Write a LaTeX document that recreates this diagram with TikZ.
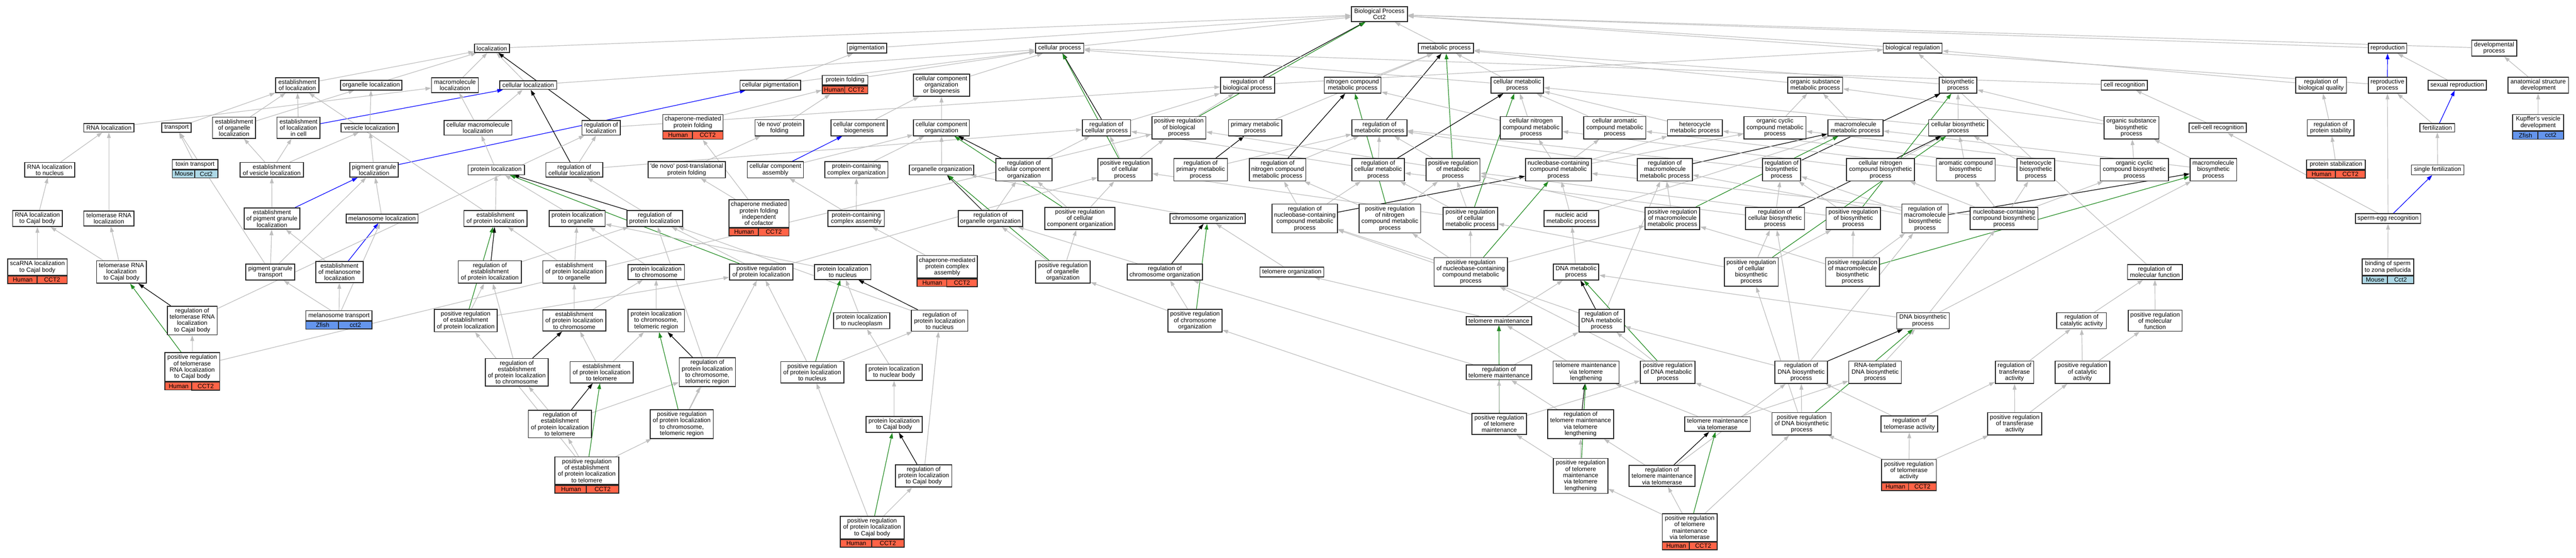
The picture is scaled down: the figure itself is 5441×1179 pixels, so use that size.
\documentclass[tikz,border=0pt]{standalone}
\usepackage{fontspec}
\setmainfont{Liberation Sans}
\usetikzlibrary{positioning,arrows.meta,calc,fit}
\definecolor{edgegray}{HTML}{BEBEBE}
\definecolor{posgreen}{HTML}{228B22}
\definecolor{human}{HTML}{FF6347}
\definecolor{mouse}{HTML}{ADD8E6}
\definecolor{zfish}{HTML}{6495ED}
\pgfdeclarelayer{edges}
\pgfsetlayers{edges,main}
\newcommand\gofont{\fontsize{6.5}{6.7}\selectfont}
\newcommand\apos{\textquotesingle}
% species and gene strip under a term
\newcommand\gofoot[4]{%
	\path let \p1=($(#1.east)-(#1.west)$) in
		node[footcell,fill=#4,minimum width=0.5*\x1,below right=0pt and 0pt of #1.south west] (#1sp) {#2}
		node[footcell,fill=#4,minimum width=0.5*\x1,below left=0pt and 0pt of #1.south east] (#1gn) {#3};
	\node[fit=(#1)(#1sp)(#1gn),inner sep=0pt] (#1x) {};
}
\begin{document}
\begin{tikzpicture}[x=0.5pt,y=-0.5pt,>={Triangle[length=6pt,width=4pt]},
		every node/.style={font=\gofont},
		term/.style={shape=rectangle,draw=black!85,fill=white,line width=0.9pt,
			align=center,inner xsep=2pt,inner ysep=2.1pt},
		footcell/.style={shape=rectangle,draw=black!85,line width=0.9pt,inner xsep=1pt,inner ysep=1.8pt},
		wd/.style={minimum width=#1*0.5pt},
		isa/.style={->,draw=edgegray,line width=0.65pt},
		regulates/.style={->,draw=black,line width=0.65pt},
		posreg/.style={->,draw=posgreen,line width=0.65pt},
		partof/.style={->,draw=blue,line width=0.65pt}]
	\useasboundingbox (0,0) rectangle (5441,1179);

	% create the nodes, row by row
	\node[term,wd=118.5] (bp) at (2913.5,30) {Biological Process\\Cct2};

	\node[term,wd=74] (loc) at (1039,102) {localization};
	\node[term,wd=83] (pigm) at (1831,102) {pigmentation};
	\node[term,wd=102] (cellproc) at (2238,102) {cellular process};
	\node[term,wd=117] (metab) at (3054,102) {metabolic process};
	\node[term,wd=124] (bioreg) at (4040,102) {biological regulation};
	\node[term,wd=81] (repro) at (5043,102) {reproduction};
	\node[term,wd=95] (devproc) at (5268,102) {developmental\\process};

	\node[term,wd=91] (estloc) at (628,180) {establishment\\of localization};
	\node[term,wd=130] (orgloc) at (784,180) {organelle localization};
	\node[term,wd=99] (macroloc) at (961,180) {macromolecule\\localization};
	\node[term,wd=120] (cellloc) at (1115.6,180) {cellular localization};
	\node[term,wd=128] (cellpigm) at (1627,180) {cellular pigmentation};
	\node[term,wd=96] (protfold) at (1785,169.5) {protein folding};
	\node[term,wd=118.4] (ccob) at (1988.6,180) {cellular component\\organization\\or biogenesis};
	\node[term,wd=114] (regbio) at (2635,180) {regulation of\\biological process};
	\node[term,wd=120] (nitro) at (2857,180) {nitrogen compound\\metabolic process};
	\node[term,wd=111] (cellmet) at (3204.6,180) {cellular metabolic\\process};
	\node[term,wd=116] (orgsub) at (3834,180) {organic substance\\metabolic process};
	\node[term,wd=80] (biosyn) at (4135.6,180) {biosynthetic\\process};
	\node[term,wd=97.6] (cellrec) at (4487,180) {cell recognition};
	\node[term,wd=107] (regqual) at (4902.6,180) {regulation of\\biological quality};
	\node[term,wd=81] (reproproc) at (5042.6,180) {reproductive\\process};
	\node[term,wd=122.5] (sexrepro) at (5190,180) {sexual reproduction};
	\node[term,wd=128] (anat) at (5361,180) {anatomical structure\\development};

	\node[term,wd=106] (rnaloc) at (230,270) {RNA localization};
	\node[term,wd=62] (transport) at (373,270) {transport};
	\node[term,wd=91] (estorgloc) at (494.5,270) {establishment\\of organelle\\localization};
	\node[term,wd=91] (estloccell) at (630.5,270) {establishment\\of localization\\in cell};
	\node[term,wd=121] (vesloc) at (781,270) {vesicle localization};
	\node[term,wd=143] (cellmacroloc) at (1009.6,270) {cellular macromolecule\\localization};
	\node[term,wd=81] (regloc) at (1269.6,270) {regulation of\\localization};
	\node[term,wd=127] (chapfold) at (1463.5,259) {chaperone-mediated\\protein folding};
	\node[term,wd=102] (denovo) at (1646,270) {\apos de novo\apos\ protein\\folding};
	\node[term,wd=119] (ccbiog) at (1814.5,270) {cellular component\\biogenesis};
	\node[term,wd=118] (ccorg) at (1988.6,270) {cellular component\\organization};
	\node[term,wd=102] (regcell) at (2337,270) {regulation of\\cellular process};
	\node[term,wd=114] (posbio) at (2490,270) {positive regulation\\of biological\\process};
	\node[term,wd=112.6] (primmet) at (2651,270) {primary metabolic\\process};
	\node[term,wd=116] (regmet) at (2913.6,270) {regulation of\\metabolic process};
	\node[term,wd=130.6] (cellnitro) at (3234,270) {cellular nitrogen\\compound metabolic\\process};
	\node[term,wd=131] (cellarom) at (3410.6,270) {cellular aromatic\\compound metabolic\\process};
	\node[term,wd=116] (hetero) at (3580,270) {heterocycle\\metabolic process};
	\node[term,wd=131] (orgcyc) at (3749,270) {organic cyclic\\compound metabolic\\process};
	\node[term,wd=116] (macromet) at (3919,270) {macromolecule\\metabolic process};
	\node[term,wd=125] (cellbiosyn) at (4136,270) {cellular biosynthetic\\process};
	\node[term,wd=116] (orgsubbio) at (4502,270) {organic substance\\biosynthetic\\process};
	\node[term,wd=121] (cellcell) at (4684,270) {cell-cell recognition};
	\node[term,wd=98.5] (regprotstab) at (4922.6,270) {regulation of\\protein stability};
	\node[term,wd=73] (fert) at (5148,270) {fertilization};
	\node[term,wd=108] (kupffer) at (5361,259) {Kupffer\apos s vesicle\\development};

	\node[term,wd=105] (rnanuc) at (105,359) {RNA localization\\to nucleus};
	\node[term,wd=96] (toxin) at (412,347.5) {toxin transport};
	\node[term,wd=134] (estvesloc) at (574,359) {establishment\\of vesicle localization};
	\node[term,wd=102] (pigloc) at (790,359) {pigment granule\\localization};
	\node[term,wd=119] (protloc) at (1048,359) {protein localization};
	\node[term,wd=120] (regcellloc) at (1213,359) {regulation of\\cellular localization};
	\node[term,wd=163] (denovopost) at (1450.5,359) {\apos de novo\apos\ post-translational\\protein folding};
	\node[term,wd=118.5] (ccassem) at (1637.7,359) {cellular component\\assembly};
	\node[term,wd=133] (pccorg) at (1809,359) {protein-containing\\complex organization};
	\node[term,wd=136] (orgorg) at (1989,359) {organelle organization};
	\node[term,wd=118.5] (regccorg) at (2163,359) {regulation of\\cellular component\\organization};
	\node[term,wd=114] (poscell) at (2376,359) {positive regulation\\of cellular\\process};
	\node[term,wd=113] (regprim) at (2536,359) {regulation of\\primary metabolic\\process};
	\node[term,wd=119] (regnitro) at (2698.5,359) {regulation of\\nitrogen compound\\metabolic process};
	\node[term,wd=111] (regcellmet) at (2911,359) {regulation of\\cellular metabolic\\process};
	\node[term,wd=114] (posmet) at (3069,359) {positive regulation\\of metabolic\\process};
	\node[term,wd=139] (nucmet) at (3291.6,359) {nucleobase-containing\\compound metabolic\\process};
	\node[term,wd=116] (regmacromet) at (3516.6,359) {regulation of\\macromolecule\\metabolic process};
	\node[term,wd=81] (regbiosyn) at (3763,359) {regulation of\\biosynthetic\\process};
	\node[term,wd=144] (cellnitrobio) at (3972,359) {cellular nitrogen\\compound biosynthetic\\process};
	\node[term,wd=124] (arombio) at (4152,359) {aromatic compound\\biosynthetic\\process};
	\node[term,wd=80] (heterobio) at (4300,359) {heterocycle\\biosynthetic\\process};
	\node[term,wd=144] (orgcycbio) at (4508,359) {organic cyclic\\compound biosynthetic\\process};
	\node[term,wd=98.5] (macrobio) at (4675,359) {macromolecule\\biosynthetic\\process};
	\node[term,wd=124] (protstab) at (4934,348) {protein stabilization};
	\node[term,wd=111] (singlefert) at (5148.6,359) {single fertilization};

	\node[term,wd=105] (rnacajal) at (79,462) {RNA localization\\to Cajal body};
	\node[term,wd=106] (telrnaloc) at (230,462) {telomerase RNA\\localization};
	\node[term,wd=117] (estpigloc) at (574.5,462) {establishment\\of pigment granule\\localization};
	\node[term,wd=152] (melloc) at (807,462) {melanosome localization};
	\node[term,wd=133] (estprotloc) at (1046.6,462) {establishment\\of protein localization};
	\node[term,wd=118] (protlocorg) at (1219,462) {protein localization\\to organelle};
	\node[term,wd=118] (regprotloc) at (1383,462) {regulation of\\protein localization};
	\node[term,wd=127] (chapind) at (1603,451.5) {chaperone mediated\\protein folding\\independent\\of cofactor};
	\node[term,wd=119] (pcassem) at (1808.5,462) {protein-containing\\complex assembly};
	\node[term,wd=136] (regorgorg) at (2092,462) {regulation of\\organelle organization};
	\node[term,wd=148] (posccorg) at (2281,462) {positive regulation\\of cellular\\component organization};
	\node[term,wd=159] (chromorg) at (2551,462) {chromosome organization};
	\node[term,wd=138] (regnucmet) at (2756,462) {regulation of\\nucleobase-containing\\compound metabolic\\process};
	\node[term,wd=130] (posnitro) at (2935.6,462) {positive regulation\\of nitrogen\\compound metabolic\\process};
	\node[term,wd=116] (poscellmet) at (3105.7,462) {positive regulation\\of cellular\\metabolic process};
	\node[term,wd=115.5] (nucacid) at (3319,462) {nucleic acid\\metabolic process};
	\node[term,wd=115.5] (posmacromet) at (3532.5,462) {positive regulation\\of macromolecule\\metabolic process};
	\node[term,wd=125] (regcellbio) at (3749,462) {regulation of\\cellular biosynthetic\\process};
	\node[term,wd=115] (posbiosyn) at (3914.6,462) {positive regulation\\of biosynthetic\\process};
	\node[term,wd=98] (regmacrobio) at (4066,462) {regulation of\\macromolecule\\biosynthetic\\process};
	\node[term,wd=143] (nucbio) at (4233,462) {nucleobase-containing\\compound biosynthetic\\process};
	\node[term,wd=138] (spermegg) at (5044,462) {sperm-egg recognition};

	\node[term,wd=126] (scarna) at (79,564.5) {scaRNA localization\\to Cajal body};
	\node[term,wd=105] (telrnacajal) at (256.5,575) {telomerase RNA\\localization\\to Cajal body};
	\node[term,wd=103.5] (pigtrans) at (571,575) {pigment granule\\transport};
	\node[term,wd=100] (estmelloc) at (717,575) {establishment\\of melanosome\\localization};
	\node[term,wd=133] (regestprot) at (1034.6,575) {regulation of\\establishment\\of protein localization};
	\node[term,wd=133] (estprotorg) at (1213,575) {establishment\\of protein localization\\to organelle};
	\node[term,wd=119] (protchrom) at (1386,575) {protein localization\\to chromosome};
	\node[term,wd=134] (posprotloc) at (1608,575) {positive regulation\\of protein localization};
	\node[term,wd=119] (protnuc) at (1780,575) {protein localization\\to nucleus};
	\node[term,wd=127] (chapcomplex) at (2000.5,564) {chaperone-mediated\\protein complex\\assembly};
	\node[term,wd=115] (posorgorg) at (2245,575) {positive regulation\\of organelle\\organization};
	\node[term,wd=159] (regchrom) at (2460.5,575) {regulation of\\chromosome organization};
	\node[term,wd=135] (telorg) at (2728.5,575) {telomere organization};
	\node[term,wd=155] (posnucmet) at (3106.5,575) {positive regulation\\of nucleobase-containing\\compound metabolic\\process};
	\node[term,wd=96] (dnamet) at (3329,575) {DNA metabolic\\process};
	\node[term,wd=114] (poscellbio) at (3699,575) {positive regulation\\of cellular\\biosynthetic\\process};
	\node[term,wd=114] (posmacrobio) at (3913,575) {positive regulation\\of macromolecule\\biosynthetic\\process};
	\node[term,wd=115.7] (regmolfun) at (4551.5,575) {regulation of\\molecular function};
	\node[term,wd=109] (bindsperm) at (5043.5,564.5) {binding of sperm\\to zona pellucida};

	\node[term,wd=105] (regtelrna) at (406,677.5) {regulation of\\telomerase RNA\\localization\\to Cajal body};
	\node[term,wd=140] (meltrans) at (716,667) {melanosome transport};
	\node[term,wd=133] (posestprot) at (983.6,677.6) {positive regulation\\of establishment\\of protein localization};
	\node[term,wd=133] (estprotchrom) at (1213,677.6) {establishment\\of protein localization\\to chromosome};
	\node[term,wd=119] (protteloreg) at (1386,677.6) {protein localization\\to chromosome,\\telomeric region};
	\node[term,wd=118] (protnucpl) at (1820,678) {protein localization\\to nucleoplasm};
	\node[term,wd=119] (regprotnuc) at (1984.6,678) {regulation of\\protein localization\\to nucleus};
	\node[term,wd=114] (poschrom) at (2524,678) {positive regulation\\of chromosome\\organization};
	\node[term,wd=138] (telmaint) at (3166,678) {telomere maintenance};
	\node[term,wd=96] (regdnamet) at (3383,678) {regulation of\\DNA metabolic\\process};
	\node[term,wd=111] (dnabio) at (4061.6,678) {DNA biosynthetic\\process};
	\node[term,wd=105] (regcat) at (4396.6,678) {regulation of\\catalytic activity};
	\node[term,wd=114] (posmolfun) at (4552,678) {positive regulation\\of molecular\\function};

	\node[term,wd=116] (postelrna) at (406,776) {positive regulation\\of telomerase\\RNA localization\\to Cajal body};
	\node[term,wd=133] (regestchrom) at (1091.6,787) {regulation of\\establishment\\of protein localization\\to chromosome};
	\node[term,wd=133] (estprottel) at (1270.6,787) {establishment\\of protein localization\\to telomere};
	\node[term,wd=118.5] (regprottelo) at (1494,787) {regulation of\\protein localization\\to chromosome,\\telomeric region};
	\node[term,wd=133] (posprotnuc) at (1715.6,787) {positive regulation\\of protein localization\\to nucleus};
	\node[term,wd=119] (protnucbody) at (1888.5,787) {protein localization\\to nuclear body};
	\node[term,wd=138] (regtelmaint) at (3166,787) {regulation of\\telomere maintenance};
	\node[term,wd=139] (telmaintlen) at (3350,787) {telomere maintenance\\via telomere\\lengthening};
	\node[term,wd=115] (posdnamet) at (3522.6,787) {positive regulation\\of DNA metabolic\\process};
	\node[term,wd=111] (regdnabio) at (3804.5,787) {regulation of\\DNA biosynthetic\\process};
	\node[term,wd=111] (rnatempl) at (3960.6,787) {RNA-templated\\DNA biosynthetic\\process};
	\node[term,wd=81] (regtrans) at (4255,787) {regulation of\\transferase\\activity};
	\node[term,wd=115] (poscat) at (4398.6,787) {positive regulation\\of catalytic\\activity};

	\node[term,wd=133] (regesttel) at (1182.6,896.5) {regulation of\\establishment\\of protein localization\\to telomere};
	\node[term,wd=133] (posprottelo) at (1440,896.5) {positive regulation\\of protein localization\\to chromosome,\\telomeric region};
	\node[term,wd=119] (protcajal) at (1888.5,897) {protein localization\\to Cajal body};
	\node[term,wd=115] (postelmaint) at (3166.6,896) {positive regulation\\of telomere\\maintenance};
	\node[term,wd=139] (regtellen) at (3338.5,896.5) {regulation of\\telomere maintenance\\via telomere\\lengthening};
	\node[term,wd=139] (telmainttase) at (3627.7,896.5) {telomere maintenance\\via telomerase};
	\node[term,wd=125] (posdnabio) at (3805.5,896) {positive regulation\\of DNA biosynthetic\\process};
	\node[term,wd=120] (regtase) at (4033,896.5) {regulation of\\telomerase activity};
	\node[term,wd=114] (postrans) at (4255.5,896) {positive regulation\\of transferase\\activity};

	\node[term,wd=135] (posesttel) at (1239.5,995) {positive regulation\\of establishment\\of protein localization\\to telomere};
	\node[term,wd=119] (regprotcajal) at (1951,1006) {regulation of\\protein localization\\to Cajal body};
	\node[term,wd=115] (postellen) at (3338.6,1006) {positive regulation\\of telomere\\maintenance\\via telomere\\lengthening};
	\node[term,wd=139] (regteltase) at (3510.6,1006) {regulation of\\telomere maintenance\\via telomerase};
	\node[term,wd=116] (postase) at (4032,995) {positive regulation\\of telomerase\\activity};

	\node[term,wd=135] (posprotcajal) at (1842,1115) {positive regulation\\of protein localization\\to Cajal body};
	\node[term,wd=115.7] (posteltase) at (3569,1115) {positive regulation\\of telomere\\maintenance\\via telomerase};

	% species strips
	\gofoot{protfold}{Human}{CCT2}{human}
	\gofoot{chapfold}{Human}{CCT2}{human}
	\gofoot{kupffer}{Zfish}{cct2}{zfish}
	\gofoot{toxin}{Mouse}{Cct2}{mouse}
	\gofoot{protstab}{Human}{CCT2}{human}
	\gofoot{chapind}{Human}{CCT2}{human}
	\gofoot{scarna}{Human}{CCT2}{human}
	\gofoot{chapcomplex}{Human}{CCT2}{human}
	\gofoot{bindsperm}{Mouse}{Cct2}{mouse}
	\gofoot{meltrans}{Zfish}{cct2}{zfish}
	\gofoot{postelrna}{Human}{CCT2}{human}
	\gofoot{posesttel}{Human}{CCT2}{human}
	\gofoot{postase}{Human}{CCT2}{human}
	\gofoot{posprotcajal}{Human}{CCT2}{human}
	\gofoot{posteltase}{Human}{CCT2}{human}

	% connect the nodes
	\begin{pgfonlayer}{edges}
	\draw[isa] (loc) -- (bp);
	\draw[isa] (pigm) -- (bp);
	\draw[isa] (cellproc) -- (bp);
	\draw[isa] (metab) -- (bp);
	\draw[isa] (bioreg) -- (bp);
	\draw[isa] (repro) -- (bp);
	\draw[isa] (devproc) -- (bp);
	\draw[isa] (reproproc) -- (bp);
	\draw[regulates] (regbio) -- (bp);
	\draw[posreg] (posbio) -- (bp);

	\draw[isa] (estloc) -- (loc);
	\draw[isa] (orgloc) -- (loc);
	\draw[isa] (macroloc) -- (loc);
	\draw[isa] (cellloc) -- (loc);
	\draw[regulates] (regloc) -- (loc);
	\draw[isa] (cellpigm) -- (pigm);
	\draw[isa] (cellpigm) -- (cellproc);
	\draw[isa] (cellloc) -- (cellproc);
	\draw[isa] (protfold) -- (cellproc);
	\draw[isa] (ccob) -- (cellproc);
	\draw[isa] (cellmet) -- (cellproc);
	\draw[isa] (cellrec) -- (cellproc);
	\draw[regulates] (regcell) -- (cellproc);
	\draw[posreg] (poscell) -- (cellproc);
	\draw[isa] (nitro) -- (metab);
	\draw[isa] (primmet) -- (metab);
	\draw[isa] (cellmet) -- (metab);
	\draw[isa] (orgsub) -- (metab);
	\draw[isa] (biosyn) -- (metab);
	\draw[regulates] (regmet) -- (metab);
	\draw[posreg] (posmet) -- (metab);
	\draw[isa] (regbio) -- (bioreg);
	\draw[isa] (regqual) -- (bioreg);
	\draw[isa] (regmolfun) -- (bioreg);
	\draw[partof] (reproproc) -- (repro);
	\draw[isa] (sexrepro) -- (repro);
	\draw[isa] (anat) -- (devproc);

	\draw[isa] (rnaloc) -- (macroloc);
	\draw[isa] (transport) -- (estloc);
	\draw[isa] (estorgloc) -- (estloc);
	\draw[isa] (estorgloc) -- (orgloc);
	\draw[isa] (estloccell) -- (estloc);
	\draw[partof] (estloccell) -- (cellloc);
	\draw[isa] (vesloc) -- (orgloc);
	\draw[isa] (cellmacroloc) -- (macroloc);
	\draw[isa] (cellmacroloc) -- (cellloc);
	\draw[isa] (regloc) -- (regbio);
	\draw[isa] (chapfold) -- (protfoldx);
	\draw[isa] (denovo) -- (protfoldx);
	\draw[isa] (ccbiog) -- (ccob);
	\draw[isa] (ccorg) -- (ccob);
	\draw[isa] (regcell) -- (regbio);
	\draw[isa] (posbio) -- (regbio);
	\draw[isa] (cellnitro) -- (cellmet);
	\draw[isa] (cellnitro) -- (nitro);
	\draw[isa] (cellarom) -- (cellmet);
	\draw[isa] (hetero) -- (cellmet);
	\draw[isa] (orgcyc) -- (orgsub);
	\draw[isa] (macromet) -- (orgsub);
	\draw[isa] (cellbiosyn) -- (biosyn);
	\draw[isa] (cellbiosyn) -- (cellmet);
	\draw[isa] (orgsubbio) -- (orgsub);
	\draw[isa] (orgsubbio) -- (biosyn);
	\draw[isa] (cellcell) -- (cellrec);
	\draw[isa] (regprotstab) -- (regqual);
	\draw[isa] (fert) -- (reproproc);
	\draw[partof] (fert) -- (sexrepro);
	\draw[isa] (kupffer) -- (anat);

	\draw[isa] (rnanuc) -- (rnaloc);
	\draw[isa] (toxin) -- (transport);
	\draw[isa] (estvesloc) -- (estorgloc);
	\draw[isa] (estvesloc) -- (estloccell);
	\draw[isa] (estvesloc) -- (vesloc);
	\draw[isa] (pigloc) -- (vesloc);
	\draw[partof] (pigloc) -- (cellpigm);
	\draw[isa] (protloc) -- (cellmacroloc);
	\draw[isa] (regcellloc) -- (regloc);
	\draw[regulates] (regcellloc) -- (cellloc);
	\draw[isa] (regcellloc) -- (regcell);
	\draw[isa] (denovopost) -- (denovo);
	\draw[partof] (ccassem) -- (ccbiog);
	\draw[isa] (ccassem) -- (ccorg);
	\draw[isa] (pccorg) -- (ccorg);
	\draw[isa] (orgorg) -- (ccorg);
	\draw[regulates] (regccorg) -- (ccorg);
	\draw[isa] (regccorg) -- (regcell);
	\draw[isa] (poscell) -- (regcell);
	\draw[isa] (poscell) -- (posbio);
	\draw[isa] (regprim) -- (regmet);
	\draw[regulates] (regprim) -- (primmet);
	\draw[isa] (regnitro) -- (regmet);
	\draw[regulates] (regnitro) -- (nitro);
	\draw[isa] (regcellmet) -- (regmet);
	\draw[isa] (regcellmet) -- (regcell);
	\draw[regulates] (regcellmet) -- (cellmet);
	\draw[isa] (posmet) -- (regmet);
	\draw[isa] (posmet) -- (posbio);
	\draw[isa] (nucmet) -- (cellnitro);
	\draw[isa] (nucmet) -- (cellarom);
	\draw[isa] (nucmet) -- (hetero);
	\draw[isa] (nucmet) -- (orgcyc);
	\draw[isa] (regmacromet) -- (regmet);
	\draw[regulates] (regmacromet) -- (macromet);
	\draw[isa] (regbiosyn) -- (regmet);
	\draw[regulates] (regbiosyn) -- (biosyn);
	\draw[isa] (cellnitrobio) -- (cellbiosyn);
	\draw[isa] (cellnitrobio) -- (cellnitro);
	\draw[isa] (arombio) -- (cellbiosyn);
	\draw[isa] (arombio) -- (cellarom);
	\draw[isa] (heterobio) -- (cellbiosyn);
	\draw[isa] (heterobio) -- (hetero);
	\draw[isa] (orgcycbio) -- (orgsubbio);
	\draw[isa] (orgcycbio) -- (orgcyc);
	\draw[isa] (macrobio) -- (orgsubbio);
	\draw[isa] (macrobio) -- (macromet);
	\draw[isa] (protstab) -- (regprotstab);
	\draw[isa] (singlefert) -- (fert);

	\draw[isa] (rnacajal) -- (rnanuc);
	\draw[isa] (telrnaloc) -- (rnaloc);
	\draw[partof] (estpigloc) -- (pigloc);
	\draw[isa] (estpigloc) -- (estvesloc);
	\draw[isa] (melloc) -- (pigloc);
	\draw[isa] (estprotloc) -- (protloc);
	\draw[isa] (estprotloc) -- (estloc);
	\draw[isa] (protlocorg) -- (protloc);
	\draw[regulates] (regprotloc) -- (protloc);
	\draw[isa] (regprotloc) -- (regcellloc);
	\draw[isa] (chapind) -- (chapfoldx);
	\draw[isa] (chapind) -- (denovopost);
	\draw[isa] (pcassem) -- (pccorg);
	\draw[isa] (pcassem) -- (ccassem);
	\draw[regulates] (regorgorg) -- (orgorg);
	\draw[isa] (regorgorg) -- (regccorg);
	\draw[posreg] (posccorg) -- (ccorg);
	\draw[isa] (posccorg) -- (regccorg);
	\draw[isa] (posccorg) -- (poscell);
	\draw[isa] (chromorg) -- (orgorg);
	\draw[regulates] (regnucmet) -- (nucmet);
	\draw[isa] (regnucmet) -- (regnitro);
	\draw[isa] (regnucmet) -- (regcellmet);
	\draw[posreg] (posnitro) -- (nitro);
	\draw[isa] (posnitro) -- (regnitro);
	\draw[isa] (posnitro) -- (posmet);
	\draw[posreg] (poscellmet) -- (cellmet);
	\draw[isa] (poscellmet) -- (regcellmet);
	\draw[isa] (poscellmet) -- (posmet);
	\draw[isa] (poscellmet) -- (poscell);
	\draw[isa] (nucacid) -- (nucmet);
	\draw[isa] (nucacid) -- (macromet);
	\draw[posreg] (posmacromet) -- (macromet);
	\draw[isa] (posmacromet) -- (regmacromet);
	\draw[isa] (posmacromet) -- (posmet);
	\draw[isa] (regcellbio) -- (regbiosyn);
	\draw[isa] (regcellbio) -- (regcellmet);
	\draw[regulates] (regcellbio) -- (cellbiosyn);
	\draw[isa] (posbiosyn) -- (regbiosyn);
	\draw[isa] (posbiosyn) -- (posmet);
	\draw[posreg] (posbiosyn) -- (biosyn);
	\draw[isa] (regmacrobio) -- (regmacromet);
	\draw[isa] (regmacrobio) -- (regbiosyn);
	\draw[regulates] (regmacrobio) -- (macrobio);
	\draw[isa] (nucbio) -- (nucmet);
	\draw[isa] (nucbio) -- (cellnitrobio);
	\draw[isa] (nucbio) -- (arombio);
	\draw[isa] (nucbio) -- (heterobio);
	\draw[isa] (nucbio) -- (orgcycbio);
	\draw[partof] (spermegg) -- (singlefert);
	\draw[isa] (spermegg) -- (reproproc);
	\draw[isa] (spermegg) -- (cellcell);

	\draw[isa] (scarna) -- (rnacajal);
	\draw[isa] (telrnacajal) -- (rnacajal);
	\draw[isa] (telrnacajal) -- (telrnaloc);
	\draw[isa] (pigtrans) -- (estpigloc);
	\draw[isa] (pigtrans) -- (transport);
	\draw[isa] (pigtrans) -- (pigloc);
	\draw[partof] (estmelloc) -- (melloc);
	\draw[isa] (estmelloc) -- (estpigloc);
	\draw[regulates] (regestprot) -- (estprotloc);
	\draw[isa] (regestprot) -- (regprotloc);
	\draw[isa] (estprotorg) -- (estprotloc);
	\draw[isa] (estprotorg) -- (protlocorg);
	\draw[isa] (protchrom) -- (protlocorg);
	\draw[isa] (posprotloc) -- (regprotloc);
	\draw[posreg] (posprotloc) -- (protloc);
	\draw[isa] (posprotloc) -- (poscell);
	\draw[isa] (protnuc) -- (protlocorg);
	\draw[isa] (chapcomplex) -- (pcassem);
	\draw[posreg] (posorgorg) -- (orgorg);
	\draw[isa] (posorgorg) -- (regorgorg);
	\draw[isa] (posorgorg) -- (posccorg);
	\draw[regulates] (regchrom) -- (chromorg);
	\draw[isa] (regchrom) -- (regorgorg);
	\draw[isa] (telorg) -- (chromorg);
	\draw[posreg] (posnucmet) -- (nucmet);
	\draw[isa] (posnucmet) -- (regnucmet);
	\draw[isa] (posnucmet) -- (posnitro);
	\draw[isa] (posnucmet) -- (poscellmet);
	\draw[isa] (posnucmet) -- (posmacromet);
	\draw[isa] (dnamet) -- (nucacid);
	\draw[posreg] (poscellbio) -- (cellbiosyn);
	\draw[isa] (poscellbio) -- (regcellbio);
	\draw[isa] (poscellbio) -- (posbiosyn);
	\draw[isa] (poscellbio) -- (poscellmet);
	\draw[posreg] (posmacrobio) -- (macrobio);
	\draw[isa] (posmacrobio) -- (posbiosyn);
	\draw[isa] (posmacrobio) -- (regmacrobio);
	\draw[isa] (posmacrobio) -- (posmacromet);
	\draw[isa] (bindsperm) -- (spermegg);

	\draw[regulates] (regtelrna) -- (telrnacajal);
	\draw[isa] (regtelrna) -- (regloc);
	\draw[isa] (meltrans) -- (estmelloc);
	\draw[isa] (meltrans) -- (pigtrans);
	\draw[isa] (meltrans) -- (melloc);
	\draw[posreg] (posestprot) -- (estprotloc);
	\draw[isa] (posestprot) -- (regestprot);
	\draw[isa] (posestprot) -- (posprotloc);
	\draw[isa] (estprotchrom) -- (estprotorg);
	\draw[isa] (estprotchrom) -- (protchrom);
	\draw[isa] (protteloreg) -- (protchrom);
	\draw[isa] (protnucpl) -- (protnuc);
	\draw[regulates] (regprotnuc) -- (protnuc);
	\draw[isa] (regprotnuc) -- (regprotloc);
	\draw[posreg] (poschrom) -- (chromorg);
	\draw[isa] (poschrom) -- (regchrom);
	\draw[isa] (poschrom) -- (posorgorg);
	\draw[isa] (telmaint) -- (telorg);
	\draw[isa] (telmaint) -- (dnamet);
	\draw[regulates] (regdnamet) -- (dnamet);
	\draw[isa] (regdnamet) -- (regnucmet);
	\draw[isa] (regdnamet) -- (regmacromet);
	\draw[isa] (dnabio) -- (dnamet);
	\draw[isa] (dnabio) -- (nucbio);
	\draw[isa] (dnabio) -- (macrobio);
	\draw[isa] (regcat) -- (regmolfun);
	\draw[isa] (posmolfun) -- (regmolfun);

	\draw[posreg] (postelrna) -- (telrnacajal);
	\draw[isa] (postelrna) -- (regtelrna);
	\draw[isa] (postelrna) -- (posbio);
	\draw[regulates] (regestchrom) -- (estprotchrom);
	\draw[isa] (regestchrom) -- (regestprot);
	\draw[isa] (estprottel) -- (estprotchrom);
	\draw[isa] (estprottel) -- (protteloreg);
	\draw[regulates] (regprottelo) -- (protteloreg);
	\draw[isa] (regprottelo) -- (regprotloc);
	\draw[posreg] (posprotnuc) -- (protnuc);
	\draw[isa] (posprotnuc) -- (regprotnuc);
	\draw[isa] (posprotnuc) -- (posprotloc);
	\draw[isa] (protnucbody) -- (protnucpl);
	\draw[regulates] (regtelmaint) -- (telmaint);
	\draw[isa] (regtelmaint) -- (regdnamet);
	\draw[isa] (regtelmaint) -- (regchrom);
	\draw[isa] (telmaintlen) -- (telmaint);
	\draw[posreg] (posdnamet) -- (dnamet);
	\draw[isa] (posdnamet) -- (regdnamet);
	\draw[isa] (posdnamet) -- (posnucmet);
	\draw[regulates] (regdnabio) -- (dnabio);
	\draw[isa] (regdnabio) -- (regdnamet);
	\draw[isa] (regdnabio) -- (regcellbio);
	\draw[isa] (regdnabio) -- (regmacrobio);
	\draw[isa] (rnatempl) -- (dnabio);
	\draw[isa] (regtrans) -- (regcat);
	\draw[isa] (poscat) -- (regcat);
	\draw[isa] (poscat) -- (posmolfun);

	\draw[regulates] (regesttel) -- (estprottel);
	\draw[isa] (regesttel) -- (regestchrom);
	\draw[isa] (regesttel) -- (regprottelo);
	\draw[posreg] (posprottelo) -- (protteloreg);
	\draw[isa] (posprottelo) -- (regprottelo);
	\draw[isa] (posprottelo) -- (posprotloc);
	\draw[isa] (protcajal) -- (protnucbody);
	\draw[posreg] (postelmaint) -- (telmaint);
	\draw[isa] (postelmaint) -- (regtelmaint);
	\draw[isa] (postelmaint) -- (posdnamet);
	\draw[isa] (postelmaint) -- (poschrom);
	\draw[regulates] (regtellen) -- (telmaintlen);
	\draw[isa] (regtellen) -- (regtelmaint);
	\draw[isa] (telmainttase) -- (telmaintlen);
	\draw[isa] (telmainttase) -- (rnatempl);
	\draw[posreg] (posdnabio) -- (dnabio);
	\draw[isa] (posdnabio) -- (regdnabio);
	\draw[isa] (posdnabio) -- (posdnamet);
	\draw[isa] (posdnabio) -- (poscellbio);
	\draw[isa] (regtase) -- (regtrans);
	\draw[isa] (regtase) -- (regdnabio);
	\draw[isa] (postrans) -- (regtrans);
	\draw[isa] (postrans) -- (poscat);

	\draw[isa] (posesttel) -- (regesttel);
	\draw[posreg] (posesttel) -- (estprottel);
	\draw[isa] (posesttel) -- (posestprot);
	\draw[isa] (posesttel) -- (posprottelo);
	\draw[regulates] (regprotcajal) -- (protcajal);
	\draw[isa] (regprotcajal) -- (regprotnuc);
	\draw[isa] (postellen) -- (regtellen);
	\draw[posreg] (postellen) -- (telmaintlen);
	\draw[isa] (postellen) -- (postelmaint);
	\draw[regulates] (regteltase) -- (telmainttase);
	\draw[isa] (regteltase) -- (regtellen);
	\draw[isa] (regteltase) -- (regdnabio);
	\draw[isa] (postase) -- (regtase);
	\draw[isa] (postase) -- (postrans);
	\draw[isa] (postase) -- (posdnabio);

	\draw[posreg] (posprotcajal) -- (protcajal);
	\draw[isa] (posprotcajal) -- (regprotcajal);
	\draw[isa] (posprotcajal) -- (posprotnuc);
	\draw[isa] (posteltase) -- (regteltase);
	\draw[posreg] (posteltase) -- (telmainttase);
	\draw[isa] (posteltase) -- (postellen);
	\draw[isa] (posteltase) -- (posdnabio);
	\end{pgfonlayer}
\end{tikzpicture}
\end{document}
